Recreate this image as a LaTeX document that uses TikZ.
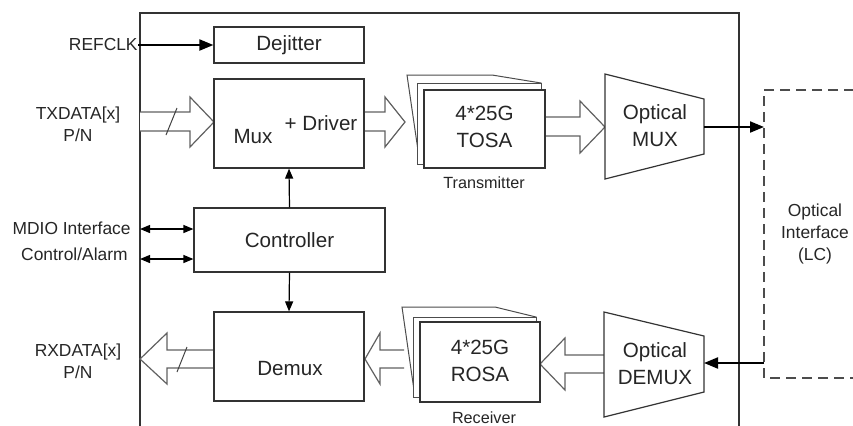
\documentclass[tikz,border=0pt]{standalone}
\usepackage{fontspec}
\setmainfont{Liberation Sans}
\usetikzlibrary{arrows.meta}
\begin{document}
\begin{tikzpicture}[x=0.5pt,y=-0.5pt,
  box/.style={draw=black!80, line width=0.6pt, fill=white, inner sep=0pt},
  big/.style={font=\fontsize{10.3}{13.5}\selectfont, text=black!85, align=center, inner sep=0pt},
  side/.style={font=\fontsize{8.7}{11}\selectfont, text=black!85, align=center, inner sep=0pt},
  small/.style={font=\fontsize{8.1}{9.5}\selectfont, text=black!85, inner sep=0pt},
  hollow/.style={draw=black!62, line width=0.6pt, fill=white, line join=miter},
  layer/.style={draw=black!70, line width=0.5pt, fill=white},
  bigarrow/.style={draw=black, line width=1pt, -{Triangle[length=7pt,width=5.5pt]}},
  thinarrow/.style={draw=black, line width=0.6pt, -{Triangle[length=5pt,width=4pt]}},
  dblarrow/.style={draw=black, line width=0.6pt, {Triangle[length=5pt,width=4pt]}-{Triangle[length=5pt,width=4pt]}},
]
\useasboundingbox (0,0) rectangle (853,425);
\clip (0,0) rectangle (853,425);
\fill[white] (0,0) rectangle (853,425);

% outer module box
\draw[line width=0.7pt, draw=black!80] (140,440) -- (140,13) -- (739,13) -- (739,440);

% dashed optical interface
\draw[draw=black!70, line width=0.6pt, dash pattern=on 5pt off 3pt] (870,90) -- (764,90) -- (764,378) -- (870,378);
\node[side] (oi) at (815,234) {Optical\\Interface\\(LC)};
\coordinate (oitx) at (764,127);
\coordinate (oirx) at (764,363);

% hollow arrows
\draw[hollow] (140,112) -- (190,112) -- (190,97) -- (214,122) -- (190,147) -- (190,131) -- (140,131);
\draw[draw=black!75, line width=0.5pt] (166,135) -- (177,108);
\draw[hollow] (364,112) -- (385,112) -- (385,97) -- (405,122) -- (385,147) -- (385,131) -- (364,131);
\draw[hollow] (545,117) -- (580,117) -- (580,101) -- (605,127) -- (580,153) -- (580,136) -- (545,136);
\draw[hollow] (214,350) -- (167,350) -- (167,333) -- (140,359) -- (167,384) -- (167,368) -- (214,368);
\draw[draw=black!75, line width=0.5pt] (187,347) -- (177,372);
\draw[hollow] (404,350) -- (380,350) -- (380,333) -- (365,359) -- (380,384) -- (380,368) -- (404,368);
\draw[hollow] (604,355) -- (565,355) -- (565,338) -- (540,364) -- (565,390) -- (565,373) -- (604,373);

% blocks
\node[box, minimum width=75pt, minimum height=18pt] (dej) at (289,45) {};
\node[big] (dejl) at (289,45) {Dejitter};
\node[box, minimum width=75pt, minimum height=44.5pt] (mux) at (289,123.5) {};
\node[big] (muxl) at (253,137) {Mux};
\node[big] (drvl) at (321,123) {+ Driver};
\node[box, minimum width=95.5pt, minimum height=32pt] (ctrl) at (289.5,240) {};
\node[big] (ctrll) at (289.5,240) {Controller};
\node[box, minimum width=75pt, minimum height=44.5pt] (demux) at (289,356.5) {};
\node[big] (demuxl) at (290,369) {Demux};

% TOSA stack
\draw[layer] (407,75) -- (492,75) -- (541,83) -- (541,164) -- (420,164) -- cycle;
\draw[layer] (417,83) rectangle (541,164);
\node[box, minimum width=60.5pt, minimum height=39pt] (tosa) at (484.5,129) {};
\node[big] (tosal) at (484.5,127) {4*25G\\TOSA};
\node[small] (txl) at (484,183) {Transmitter};

% ROSA stack
\draw[layer] (402,307) -- (495,307) -- (536,317) -- (536,397) -- (415,397) -- cycle;
\draw[layer] (413,317) rectangle (536,397);
\node[box, minimum width=60pt, minimum height=40pt] (rosa) at (480,362) {};
\node[big] (rosal) at (480,361) {4*25G\\ROSA};
\node[small] (rxl) at (484,418) {Receiver};

% optical mux / demux
\draw[box] (605,74) -- (704,99) -- (704,154) -- (605,179) -- cycle;
\node[big] (omux) at (655,126) {Optical\\MUX};
\coordinate (omuxout) at (704,127);
\draw[box] (604,312) -- (704,336) -- (704,392) -- (604,417) -- cycle;
\node[big] (odmx) at (655,364) {Optical\\DEMUX};
\coordinate (odmxin) at (704,363);

% side labels
\node[side, anchor=east] (refclk) at (138,45) {REFCLK};
\node[side] (txd) at (78,124) {TXDATA[x]\\P/N};
\node[side, anchor=east] (mdio) at (131,228) {MDIO Interface};
\node[side, anchor=east] (ctla) at (128,254) {Control/Alarm};
\node[side] (rxd) at (78,361) {RXDATA[x]\\P/N};
\coordinate (mdioin) at (140,229);
\coordinate (ctlain) at (140,259);

% connectors
\draw[bigarrow] (refclk.east) -- (dej.west);
\draw[bigarrow] (omuxout) -- (oitx);
\draw[bigarrow] (oirx) -- (odmxin);
\draw[thinarrow] (ctrl.north) -- (mux.south);
\draw[thinarrow] (ctrl.south) -- (demux.north);
\draw[dblarrow] (mdioin) -- (ctrl.west |- mdioin);
\draw[dblarrow] (ctlain) -- (ctrl.west |- ctlain);
\end{tikzpicture}
\end{document}
